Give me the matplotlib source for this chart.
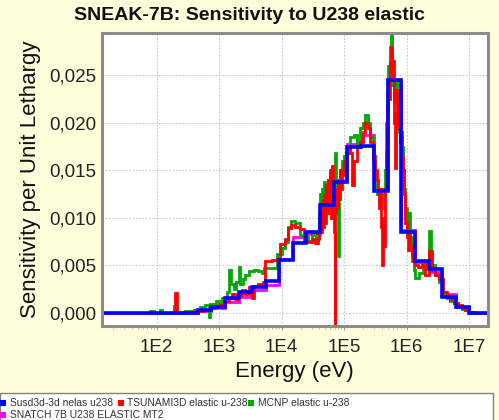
import numpy as np
import matplotlib
matplotlib.use("Agg")
import matplotlib.pyplot as plt
from matplotlib.patches import Rectangle
from matplotlib.ticker import FixedLocator, FuncFormatter, LogLocator, NullFormatter

# ---------------- data ----------------
# each series: (log10 of group lower-edge energy in eV, sensitivity per unit lethargy)
labels = ["Susd3d-3d nelas u238", "TSUNAMI3D elastic u-238", "MCNP elastic u-238", "SNATCH 7B U238 ELASTIC MT2"]
colors = ["#0000FF", "#FF0000", "#00A800", "#FF00FF"]

blue_loge = [1.10, 2.657, 2.874, 3.091, 3.309, 3.526, 3.743, 3.960, 4.177, 4.394, 4.611, 4.829,
             5.046, 5.263, 5.480, 5.697, 5.914, 6.131, 6.349, 6.566, 6.783, 7.000, 7.30]
blue_vals = [0.0, 0.0003, 0.00063, 0.0015, 0.0022, 0.0027, 0.0033, 0.0056, 0.0073, 0.0085, 0.0114, 0.0138,
             0.0175, 0.0176, 0.0128, 0.0245, 0.0085, 0.0055, 0.0046, 0.0017, 0.0006, 0.0, 0.0]

magenta_loge = blue_loge
magenta_vals = [0.0, 0.0002, 0.0005, 0.0011, 0.0017, 0.0024, 0.0029, 0.0057, 0.0080, 0.0083, 0.0112, 0.0140,
                0.0178, 0.0187, 0.0130, 0.0240, 0.0087, 0.0053, 0.0043, 0.0020, 0.0006, 0.0, 0.0]

red_points = [
    (2.25, 0.0), (2.29, 0.0021), (2.33, 0.0), (2.45, 0.0001), (2.60, 0.0002), (2.75, 0.0003),
    (2.85, 0.0005), (2.92, 0.0007), (3.00, 0.0009), (3.08, 0.0012), (3.15, 0.0016), (3.20, 0.0020),
    (3.25, 0.0014), (3.30, 0.0019), (3.36, 0.0024), (3.42, 0.0020), (3.47, 0.0027), (3.52, 0.0015),
    (3.56, 0.0028), (3.62, 0.0030), (3.70, 0.0032), (3.74, 0.0055), (3.85, 0.0056), (3.92, 0.0058),
    (3.97, 0.0072), (4.05, 0.0078), (4.10, 0.0089), (4.15, 0.0092), (4.22, 0.0090), (4.30, 0.0088),
    (4.36, 0.0076), (4.42, 0.0074), (4.48, 0.0078), (4.53, 0.0073), (4.58, 0.0079),
    (4.60, 0.0095), (4.62, 0.0110), (4.635, 0.0085), (4.65, 0.0118), (4.665, 0.0090), (4.68, 0.0125),
    (4.695, 0.0095), (4.71, 0.0135), (4.725, 0.0105), (4.74, 0.0140), (4.755, 0.0110), (4.77, 0.0150),
    (4.785, 0.0100), (4.80, 0.0155), (4.815, 0.0120), (4.83, 0.0085), (4.845, -0.0014), (4.86, 0.0105),
    (4.875, 0.0130), (4.89, 0.0110), (4.905, 0.0140), (4.92, 0.0120), (4.935, 0.0150), (4.95, 0.0130),
    (4.97, 0.0145), (5.00, 0.0160), (5.03, 0.0168), (5.06, 0.0172), (5.10, 0.0168), (5.13, 0.0135),
    (5.16, 0.0160), (5.20, 0.0175), (5.25, 0.0180), (5.30, 0.0190), (5.34, 0.0200), (5.38, 0.0195),
    (5.42, 0.0180), (5.46, 0.0165),
    (5.50, 0.0150), (5.52, 0.0140), (5.54, 0.0125), (5.56, 0.0110), (5.575, 0.0130), (5.59, 0.0090),
    (5.605, 0.0050), (5.62, 0.0100), (5.635, 0.0070), (5.65, 0.0130), (5.665, 0.0170), (5.68, 0.0215),
    (5.695, 0.0240), (5.71, 0.0225), (5.725, 0.0265), (5.74, 0.0245), (5.755, 0.0280), (5.77, 0.0250),
    (5.785, 0.0265), (5.80, 0.0200), (5.815, 0.0152), (5.83, 0.0210), (5.845, 0.0235), (5.86, 0.0195),
    (5.875, 0.0215), (5.89, 0.0180), (5.905, 0.0190), (5.92, 0.0165), (5.935, 0.0150), (5.95, 0.0125),
    (5.965, 0.0110), (5.98, 0.0095), (6.00, 0.0080), (6.02, 0.0066), (6.04, 0.0085), (6.06, 0.0070),
    (6.08, 0.0060), (6.10, 0.0055),
    (6.13, 0.0050), (6.18, 0.0048), (6.24, 0.0052), (6.30, 0.0040), (6.36, 0.0065), (6.40, 0.0045),
    (6.46, 0.0040), (6.52, 0.0035), (6.58, 0.0022), (6.64, 0.0018), (6.70, 0.0014), (6.76, 0.0010),
    (6.82, 0.0008), (6.88, 0.0005), (6.94, 0.0003), (7.00, 0.0001), (7.10, 0.0), (7.30, 0.0),
]

green_points = [
    (1.90, 0.0002), (1.95, 0.0), (2.05, 0.0003), (2.08, 0.0), (2.27, 0.0007), (2.31, 0.0001),
    (2.45, 0.0002), (2.60, 0.0003), (2.70, 0.0006), (2.78, 0.0008), (2.83, -0.0005), (2.86, 0.0009),
    (2.95, 0.0012), (3.05, 0.0015), (3.12, 0.0022), (3.16, 0.0045), (3.19, 0.0030), (3.23, 0.0025),
    (3.27, 0.0032), (3.31, 0.0048), (3.34, 0.0030), (3.38, 0.0036), (3.42, 0.0040), (3.48, 0.0044),
    (3.55, 0.0045), (3.62, 0.0044), (3.68, 0.0042), (3.72, 0.0047), (3.93, 0.0062), (4.00, 0.0068),
    (4.05, 0.0075), (4.10, 0.0090), (4.15, 0.0097), (4.22, 0.0095), (4.30, 0.0082), (4.36, 0.0080),
    (4.42, 0.0076), (4.48, 0.0082), (4.55, 0.0078),
    (4.60, 0.0105), (4.615, 0.0125), (4.63, 0.0100), (4.645, 0.0130), (4.66, 0.0110), (4.675, 0.0138),
    (4.69, 0.0115), (4.705, 0.0125), (4.72, 0.0105), (4.735, 0.0140), (4.75, 0.0120), (4.765, 0.0145),
    (4.78, 0.0130), (4.80, 0.0120), (4.82, 0.0135), (4.86, 0.0168), (4.875, 0.0140), (4.89, 0.0125),
    (4.905, 0.0060), (4.92, 0.0130), (4.935, 0.0150), (4.95, 0.0145), (4.97, 0.0160), (5.00, 0.0165),
    (5.05, 0.0175), (5.10, 0.0185), (5.15, 0.0187), (5.20, 0.0178), (5.26, 0.0195), (5.30, 0.0200),
    (5.34, 0.0208), (5.38, 0.0200), (5.42, 0.0185), (5.46, 0.0160), (5.50, 0.0135), (5.53, 0.0125),
    (5.56, 0.0118), (5.59, 0.0110), (5.62, 0.0125), (5.645, 0.0150), (5.665, 0.0200), (5.68, 0.0235),
    (5.70, 0.0260), (5.72, 0.0250), (5.74, 0.0280), (5.755, 0.0295), (5.77, 0.0265), (5.785, 0.0240),
    (5.80, 0.0225), (5.82, 0.0245), (5.84, 0.0220), (5.86, 0.0200), (5.88, 0.0190), (5.90, 0.0185),
    (5.92, 0.0175), (5.94, 0.0150), (5.96, 0.0130), (5.98, 0.0110), (6.00, 0.0085), (6.03, 0.0105),
    (6.06, 0.0080), (6.09, 0.0055), (6.12, 0.0045), (6.14, 0.0037), (6.20, 0.0042), (6.26, 0.0050),
    (6.32, 0.0055), (6.36, 0.0086), (6.39, 0.0050), (6.45, 0.0040), (6.52, 0.0032), (6.58, 0.0020),
    (6.64, 0.0015), (6.70, 0.0012), (6.76, 0.0010), (6.82, 0.0007), (6.88, 0.0004), (6.94, 0.0003),
    (7.00, 0.0001), (7.10, 0.0), (7.30, 0.0),
]

xticks = [1e2, 1e3, 1e4, 1e5, 1e6, 1e7]
xtick_labels = ["1E2", "1E3", "1E4", "1E5", "1E6", "1E7"]
yticks = [0.0, 0.005, 0.010, 0.015, 0.020, 0.025]

# ---------------- figure ----------------
W, H = 499, 420
plt.rcParams['font.family'] = ['Liberation Sans', 'DejaVu Sans']
bg = "#FFFFDB"
fig = plt.figure(figsize=(W / 100, H / 100), dpi=100, facecolor=bg)

def px(x, y):
    return x / W, 1 - y / H

l, r, t, b = 101.7, 488.0, 32.7, 326.0
ax = fig.add_axes([l / W, 1 - b / H, (r - l) / W, (b - t) / H])
ax.set_facecolor("white")
ax.set_xscale("log")

red_loge, red_vals = np.array(red_points).T
green_loge, green_vals = np.array(green_points).T

series = [(magenta_loge, magenta_vals, colors[3], 1, 2.0),
          (green_loge, green_vals, colors[2], 2, 2.0),
          (red_loge, red_vals, colors[1], 3, 2.0),
          (blue_loge, blue_vals, colors[0], 4, 2.6)]
for lg, vals, c, z, lw in series:
    ax.step(10 ** np.asarray(lg), vals, where="post", color=c, lw=lw, zorder=z, solid_joinstyle="miter")

ax.set_xlim(10 ** 1.12, 10 ** 7.3)
ax.set_ylim(-0.0014, 0.0295)

ax.xaxis.set_major_locator(FixedLocator(xticks))
ax.xaxis.set_major_formatter(FuncFormatter(lambda v, p: xtick_labels[xticks.index(v)] if v in xticks else ""))
ax.xaxis.set_minor_locator(LogLocator(base=10, subs=np.arange(2, 10), numticks=20))
ax.xaxis.set_minor_formatter(NullFormatter())
ax.yaxis.set_major_locator(FixedLocator(yticks))
ax.yaxis.set_major_formatter(FuncFormatter(lambda v, p: f"{v:.3f}".replace(".", ",")))

ax.tick_params(axis="x", which="major", length=3, width=0.8, color="#999999", pad=6,
               labelsize=13.5, labelcolor="#222222")
ax.tick_params(axis="x", which="minor", length=2, width=0.6, color="#AAAAAA")
ax.tick_params(axis="y", which="major", length=0, pad=4, labelsize=13.5, labelcolor="#222222")

ax.grid(True, which="major", color="#C8C8C8", linestyle=(0, (1.5, 1.5)), linewidth=0.8, zorder=0)
for s in ax.spines.values():
    s.set_color("#8C8C8C")
    s.set_linewidth(2.2)
    s.set_zorder(6)

# titles and axis labels
fig.text(*px(249.5, 16), "SNEAK-7B: Sensitivity to U238 elastic", ha="center", va="center",
         fontsize=14, fontweight="bold", color="#111111")
fig.text(*px(294.8, 372), "Energy (eV)", ha="center", va="center", fontsize=16, color="#111111")
fig.text(*px(31, 179.4), "Sensitivity per Unit Lethargy", ha="center", va="center",
         rotation=90, fontsize=16, color="#111111")

# legend box (flow layout)
fig.patches.append(Rectangle(px(0, 440), 493 / W, 47 / H, transform=fig.transFigure,
                             facecolor="white", edgecolor="#808080", linewidth=1.0, zorder=1))
entries = [(labels[0], colors[0], 0.0, 403), (labels[1], colors[1], 118.0, 403),
           (labels[2], colors[2], 248.0, 403), (labels[3], colors[3], 0.0, 414.5)]
for text, c, x0, yc in entries:
    fig.patches.append(Rectangle(px(x0, yc + 3), 5.5 / W, 6 / H, transform=fig.transFigure,
                                 facecolor=c, edgecolor="none", zorder=2))
    fig.text(*px(x0 + 9.5, yc), text, ha="left", va="center", fontsize=7.4, color="#333333", zorder=3)

fig.savefig("out.png", dpi=100, facecolor=bg)
